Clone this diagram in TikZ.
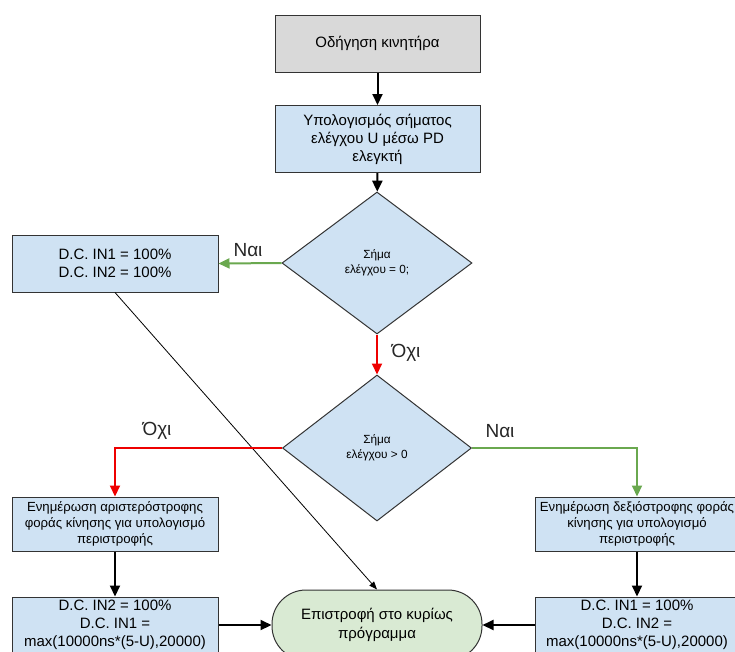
\documentclass[tikz,border=0pt]{standalone}
\usepackage{fontspec}
\setmainfont{Liberation Sans}
\usetikzlibrary{arrows.meta, shapes.geometric}
\definecolor{boxblue}{HTML}{cfe2f3}
\definecolor{boxgray}{HTML}{d9d9d9}
\definecolor{ovalgreen}{HTML}{d9ead3}
\definecolor{yesgreen}{HTML}{6aa84f}
\definecolor{nored}{HTML}{ee0000}
\definecolor{edgegray}{HTML}{333333}

\tikzset{
  procbox/.style={draw=edgegray, fill=boxblue, line width=1pt, align=center,
    inner sep=0pt, font=\fontsize{15}{18}\selectfont},
  smallbox/.style={procbox, font=\fontsize{13.2}{16}\selectfont},
  decision/.style={draw=edgegray, fill=boxblue, line width=1pt, diamond, align=center,
    inner sep=0pt, font=\fontsize{11.8}{14.5}\selectfont},
  endoval/.style={draw=edgegray, fill=ovalgreen, line width=1pt, align=center,
    rounded corners=34pt, font=\fontsize{15}{19}\selectfont},
  flow/.style={line width=2pt, -{Triangle[length=11pt,width=10pt]}},
  yesflow/.style={flow, yesgreen},
  noflow/.style={flow, nored},
  thinflow/.style={line width=0.8pt, -{Triangle[length=8pt,width=6pt]}},
  lbl/.style={font=\fontsize{19}{21}\selectfont, text=black!85}
}

\begin{document}
\begin{tikzpicture}[x=1pt, y=-1pt]
  \useasboundingbox (0,0) rectangle (735,651);
  % main column
  \node[procbox, fill=boxgray, minimum width=205pt, minimum height=57pt] (drive) at (377.5,43.5) {Οδήγηση κινητήρα};
  \node[procbox, minimum width=205pt, minimum height=67pt] (calcu) at (377.5,139) {Υπολογισμός σήματος\\ελέγχου U μέσω PD\\ελεγκτή};
  \node[decision, minimum width=190pt, minimum height=142pt] (zero) at (377,263) {Σήμα\\ελέγχου = 0;};
  \node[decision, minimum width=189pt, minimum height=146pt] (sign) at (377,448) {Σήμα\\ελέγχου > 0};
  \node[endoval, minimum width=210pt, minimum height=70pt] (ret) at (377,625) {Επιστροφή στο κυρίως\\πρόγραμμα};

  % side boxes
  \node[procbox, minimum width=206pt, minimum height=57pt] (both) at (115,263.5) {D.C. IN1 = 100\%\\D.C. IN2 = 100\%};
  \node[smallbox, minimum width=206pt, minimum height=54pt] (ccw) at (115,524) {Ενημέρωση αριστερόστροφης\\φοράς κίνησης για υπολογισμό\\περιστροφής};
  \node[smallbox, minimum width=204pt, minimum height=54pt] (cw) at (637,524) {Ενημέρωση δεξιόστροφης φοράς\\κίνησης για υπολογισμό\\περιστροφής};
  \node[procbox, minimum width=206pt, minimum height=56pt] (ccwdc) at (115,625) {D.C. IN2 = 100\%\\D.C. IN1 =\\max(10000ns*(5-U),20000)};
  \node[procbox, minimum width=204pt, minimum height=56pt] (cwdc) at (637,625) {D.C. IN1 = 100\%\\D.C. IN2 =\\max(10000ns*(5-U),20000)};

  % connectors
  \draw[flow] (drive) -- (calcu);
  \draw[flow] (calcu) -- (zero);
  \draw[yesflow] (zero.west) -- (both.east);
  \node[lbl] (yes1) at (248,250) {Ναι};
  \draw[thinflow] (both.south) -- (ret.north);
  \draw[noflow] (zero.south) -- (sign.north);
  \node[lbl] (no1) at (406,353) {Όχι};
  \draw[noflow] (sign.west) -| (ccw.north);
  \node[lbl] (no2) at (157,431) {Όχι};
  \draw[yesflow] (sign.east) -| (cw.north);
  \node[lbl] (yes2) at (500,431) {Ναι};
  \draw[flow] (ccw) -- (ccwdc);
  \draw[flow] (cw) -- (cwdc);
  \draw[flow] (ccwdc.east) -- (ret.west);
  \draw[flow] (cwdc.west) -- (ret.east);
\end{tikzpicture}
\end{document}
